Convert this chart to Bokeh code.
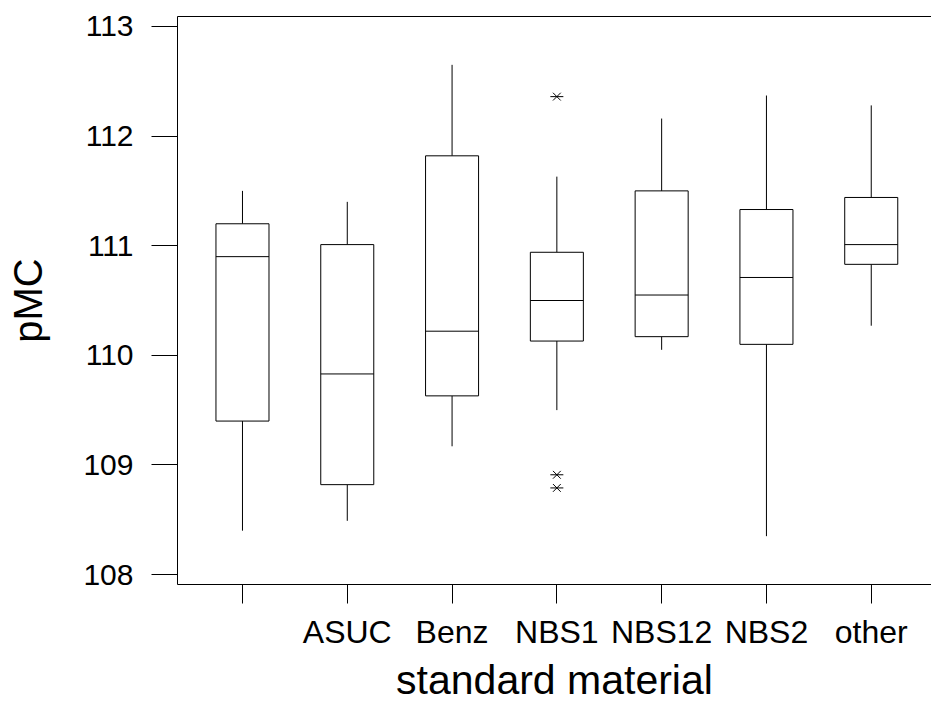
from bokeh.plotting import figure
from bokeh.models import FixedTicker, LinearAxis, Range1d
from bokeh.embed import file_html
from bokeh.resources import INLINE

# ---- data ----
categories = ["", "ASUC", "Benz", "NBS1", "NBS12", "NBS2", "other"]
whisker_low = [108.40, 108.49, 109.17, 109.50, 110.05, 108.35, 110.27]
q1 = [109.40, 108.82, 109.63, 110.13, 110.17, 110.10, 110.83]
median = [110.90, 109.83, 110.22, 110.50, 110.55, 110.71, 111.01]
q3 = [111.20, 111.01, 111.82, 110.94, 111.50, 111.33, 111.44]
whisker_high = [111.50, 111.40, 112.65, 111.63, 112.16, 112.37, 112.28]
outlier_cat = ["NBS1", "NBS1", "NBS1"]
outlier_val = [112.36, 108.91, 108.79]
y_ticks = [108, 109, 110, 111, 112, 113]

# ---- layout / style ----
FONT = "Liberation Sans"
box_w = 0.506
xpos = [i + 1 for i in range(len(categories))]
out_x = [categories.index(c) + 1 for c in outlier_cat]

p = figure(
    frame_width=754, frame_height=568,
    x_range=Range1d(0.380, 7.575), y_range=Range1d(107.909, 113.091),
    output_backend="svg", toolbar_location=None,
    min_border_left=177, min_border_right=0, min_border_top=16, min_border_bottom=121,
)
p.outline_line_color = None
p.grid.visible = False
p.background_fill_color = "white"
p.border_fill_color = "white"

# whiskers
p.segment(x0=xpos, y0=q3, x1=xpos, y1=whisker_high, line_color="black", line_width=1)
p.segment(x0=xpos, y0=whisker_low, x1=xpos, y1=q1, line_color="black", line_width=1)
# boxes
p.vbar(x=xpos, width=box_w, bottom=q1, top=q3, fill_color="white",
       line_color="black", line_width=1)
# medians
p.segment(x0=[x - box_w / 2 for x in xpos], y0=median,
          x1=[x + box_w / 2 for x in xpos], y1=median,
          line_color="black", line_width=1)
# outliers (asterisk-like: x + dash)
p.scatter(x=out_x, y=outlier_val, marker="x", size=11, line_color="black", line_width=1)
p.scatter(x=out_x, y=outlier_val, marker="dash", size=13, line_color="black", line_width=1)

# x axis
xa = p.xaxis[0]
xa.ticker = FixedTicker(ticks=xpos)
xa.major_label_overrides = {x: c for x, c in zip(xpos, categories)}
xa.minor_tick_line_color = None
xa.major_tick_in = 0
xa.major_tick_out = 19
xa.major_label_standoff = 10
xa.major_label_text_font = FONT
xa.major_label_text_font_size = "32px"
xa.major_label_text_color = "black"
xa.axis_label = "standard material"
xa.axis_label_text_font = FONT
xa.axis_label_text_font_size = "41px"
xa.axis_label_text_font_style = "normal"
xa.axis_label_text_color = "black"
xa.axis_label_standoff = 4
xa.axis_line_color = "black"
xa.major_tick_line_color = "black"

# y axis
ya = p.yaxis[0]
ya.ticker = FixedTicker(ticks=y_ticks)
ya.minor_tick_line_color = None
ya.major_tick_in = 0
ya.major_tick_out = 26
ya.major_label_standoff = 18
ya.major_label_text_font = FONT
ya.major_label_text_font_size = "30px"
ya.major_label_text_color = "black"
ya.axis_label = "pMC"
ya.axis_label_text_font = FONT
ya.axis_label_text_font_size = "40px"
ya.axis_label_text_font_style = "normal"
ya.axis_label_text_color = "black"
ya.axis_label_standoff = 30
ya.axis_line_color = "black"
ya.major_tick_line_color = "black"

# top border line
top = LinearAxis(ticker=FixedTicker(ticks=[]), major_label_text_font_size="0px",
                 major_tick_line_color=None, minor_tick_line_color=None,
                 axis_line_color="black")
p.add_layout(top, "above")

open("out.html", "w").write(file_html(p, INLINE))
